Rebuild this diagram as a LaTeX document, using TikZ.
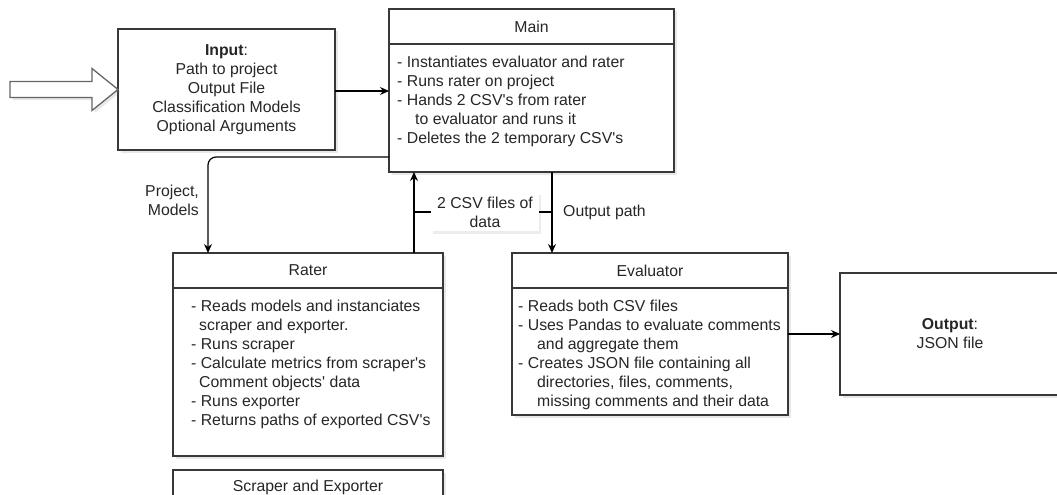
\documentclass[tikz,border=0pt]{standalone}
\usepackage{fontspec}
\setmainfont{Liberation Sans}[Ligatures=TeXOff]
\usetikzlibrary{positioning,arrows.meta,shadows}

\tikzset{
  box/.style={draw=black!78, line width=1.3pt, fill=white, outer sep=0pt,
    drop shadow={shadow xshift=2.5pt, shadow yshift=-2.5pt, opacity=0.18}},
  headbox/.style={box, minimum height=35pt, inner sep=0pt},
  bodybox/.style={box, inner sep=0pt},
  bullets/.style={align=left, anchor=north west, inner sep=0pt},
  tag/.style={inner sep=0pt},
  flow/.style={line width=1.2pt, -{Stealth[length=9pt,width=8pt]}},
  hollow/.style={draw=black!60, line width=1.3pt, fill=white,
    drop shadow={shadow xshift=2.5pt, shadow yshift=-2.5pt, opacity=0.18}}
}

\begin{document}
\begin{tikzpicture}[x=1pt, y=-1pt, font=\fontsize{15.8}{19}\selectfont, text=black!85]
                \useasboundingbox (0,0) rectangle (1057,495);
                \clip (0,0) rectangle (1057,495);
                \node [box, minimum width=217pt, minimum height=121pt, align=center] (input) at (226.5,89.5) {\textbf{Input}:\\Path to project\\Output File\\Classification Models\\Optional Arguments};
                \node [box, minimum width=220pt, minimum height=122pt, align=center] (output) at (950,334) {\textbf{Output}:\\JSON file};
                \draw [hollow] (input.west) -- ++(-26,-21) -- ++(0,13) -- ++(-82,0) -- ++(0,16) -- ++(82,0) -- ++(0,13) -- cycle;
                \node [headbox, minimum width=285pt] (mainhead) at (531.5,26.5) {Main};
                \node [bodybox, minimum width=285pt, minimum height=128pt, below=0pt of mainhead] (mainbody) {};
                \node [bullets] (maintext) at ([xshift=8pt,yshift=-12pt]mainbody.north west) {- Instantiates evaluator and rater\\- Runs rater on project\\- Hands 2 CSV's from rater\\\hspace*{18pt}to evaluator and runs it\\- Deletes the 2 temporary CSV's};
                \node [headbox, minimum width=270pt] (raterhead) at (308,270.5) {Rater};
                \node [bodybox, minimum width=270pt, minimum height=168pt, below=0pt of raterhead] (raterbody) {};
                \node [bullets] (ratertext) at ([xshift=18pt,yshift=-12pt]raterbody.north west) {- Reads models and instanciates\\\hspace*{8pt}scraper and exporter.\\- Runs scraper\\- Calculate metrics from scraper's\\\hspace*{8pt}Comment objects' data\\- Runs exporter\\- Returns paths of exported CSV's};
                \node [headbox, minimum width=270pt] (scraperhead) at (308,487.5) {Scraper and Exporter};
                \node [headbox, minimum width=276pt] (evalhead) at (650,270.5) {Evaluator};
                \node [bodybox, minimum width=276pt, minimum height=127pt, below=0pt of evalhead] (evalbody) {};
                \node [bullets] (evaltext) at ([xshift=6pt,yshift=-12pt]evalbody.north west) {- Reads both CSV files\\- Uses Pandas to evaluate comments\\\hspace*{19pt}and aggregate them\\- Creates JSON file containing all\\\hspace*{19pt}directories, files, comments,\\\hspace*{19pt}missing comments and their data};
                \coordinate (csvfoot) at ([xshift=-29pt]raterhead.north east);
                \coordinate (evaltop) at ([xshift=40pt]evalhead.north west);
                \draw [flow] ([yshift=-1.5pt]input.east) -- ([yshift=-1.5pt]input.east -| mainbody.west);
                \draw [flow, rounded corners=8pt] ([yshift=15pt]mainbody.south west) -| ([xshift=35pt]raterhead.north west);
                \draw [flow] (csvfoot) -- (csvfoot |- mainbody.south);
                \draw [flow] (evaltop |- mainbody.south) -- (evaltop);
                \draw [flow] (output.west -| evalbody.east) -- (output.west);
                \node [tag, align=right, anchor=east] (projlabel) at (199,200) {Project,\\Models};
                \node [tag, anchor=west] (pathlabel) at (563,212) {Output path};
                \node [tag, align=center, fill=white, inner xsep=6pt, inner ysep=4pt, drop shadow={shadow xshift=2pt, shadow yshift=-2.5pt, opacity=0.15}] (csvlabel) at (485,212) {2 CSV files of\\data};
                \draw [line width=1.2pt] (csvlabel.west -| csvfoot) -- (csvlabel.west);
                \draw [line width=1.2pt] (csvlabel.east) -- (csvlabel.east -| evaltop);
            \end{tikzpicture}
\end{document}
